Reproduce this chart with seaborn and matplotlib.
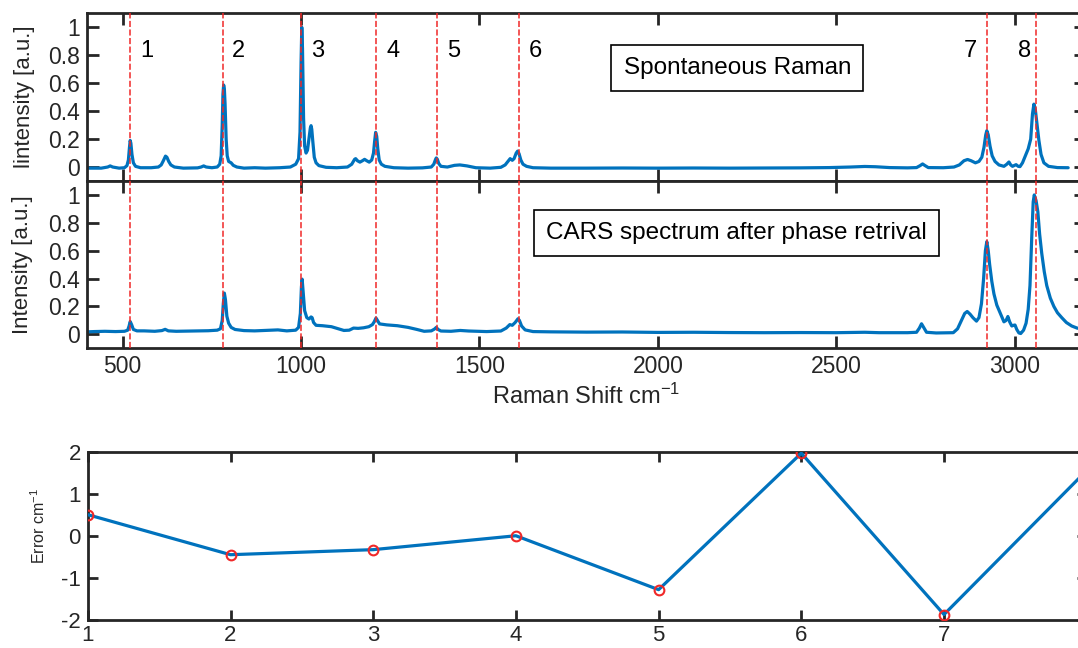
import matplotlib
matplotlib.use("Agg")
import matplotlib.pyplot as plt
import seaborn as sns
from matplotlib.ticker import FuncFormatter

# ---------------------------------------------------------------------------
# Spontaneous Raman spectrum (normalised intensity vs Raman shift, cm^-1)
# ---------------------------------------------------------------------------
spont_shift = [
    400, 440, 458, 465, 472, 490, 505, 512, 516, 519, 521, 523, 526, 530, 536,
    550, 580, 600, 608, 614, 620, 624, 629, 635, 645, 670, 710, 720, 727, 734,
    750, 765, 772, 776, 779, 781, 783, 785, 787, 790, 793, 797, 804, 810, 820,
    840, 870, 900, 940, 970, 985, 993, 997, 1000, 1002, 1004, 1007, 1010, 1014,
    1018, 1022, 1026, 1028, 1030, 1033, 1037, 1042, 1050, 1070, 1100, 1130,
    1142, 1150, 1153, 1158, 1165, 1172, 1178, 1184, 1191, 1198, 1203, 1206,
    1209, 1212, 1215, 1219, 1225, 1235, 1260, 1300, 1340, 1365, 1372, 1377,
    1379, 1382, 1386, 1392, 1410, 1430, 1445, 1465, 1490, 1530, 1560, 1572,
    1580, 1586, 1592, 1597, 1603, 1607, 1611, 1616, 1622, 1632, 1650, 1700,
    1800, 1900, 2000, 2100, 2200, 2300, 2400, 2480, 2540, 2580, 2610, 2650,
    2700, 2725, 2735, 2742, 2749, 2758, 2800, 2830, 2845, 2858, 2868, 2878,
    2890, 2900, 2908, 2914, 2919, 2922, 2926, 2931, 2937, 2945, 2956, 2970,
    2978, 2984, 2989, 2994, 3000, 3004, 3010, 3015, 3022, 3030, 3038, 3045,
    3050, 3054, 3058, 3063, 3068, 3074, 3082, 3095, 3120, 3150,
]
spont_intensity = [
    -0.008, -0.008, 0.000, 0.008, 0.000, -0.008, -0.005, 0.010, 0.050, 0.140,
    0.190, 0.170, 0.090, 0.030, 0.005, -0.005, -0.005, 0.000, 0.015, 0.045,
    0.078, 0.070, 0.040, 0.015, 0.000, -0.008, -0.006, 0.000, 0.008, 0.000,
    -0.005, 0.000, 0.020, 0.080, 0.300, 0.520, 0.587, 0.560, 0.450, 0.200,
    0.080, 0.040, 0.030, 0.012, 0.000, -0.008, -0.005, -0.008, -0.005, 0.000,
    0.020, 0.060, 0.250, 0.750, 1.000, 0.850, 0.350, 0.150, 0.100, 0.120,
    0.200, 0.280, 0.296, 0.270, 0.180, 0.070, 0.030, 0.010, -0.002, -0.005,
    0.000, 0.020, 0.055, 0.060, 0.045, 0.035, 0.045, 0.055, 0.045, 0.035,
    0.050, 0.100, 0.180, 0.248, 0.220, 0.130, 0.050, 0.020, 0.005, -0.005,
    -0.008, -0.006, 0.000, 0.020, 0.055, 0.065, 0.055, 0.025, 0.005, 0.000,
    0.012, 0.015, 0.008, -0.005, -0.008, -0.002, 0.015, 0.040, 0.060, 0.048,
    0.060, 0.100, 0.114, 0.095, 0.050, 0.020, 0.005, -0.005, -0.008, -0.008,
    -0.007, -0.008, -0.007, -0.008, -0.007, -0.006, -0.004, 0.000, 0.004,
    0.002, -0.004, -0.006, -0.004, 0.010, 0.022, 0.010, -0.004, -0.005, 0.000,
    0.015, 0.045, 0.054, 0.045, 0.030, 0.040, 0.070, 0.140, 0.230, 0.260,
    0.230, 0.150, 0.080, 0.040, 0.015, 0.005, 0.020, 0.036, 0.015, 0.005,
    0.012, 0.017, 0.005, 0.003, 0.030, 0.080, 0.130, 0.200, 0.380, 0.450,
    0.410, 0.300, 0.190, 0.090, 0.030, 0.005, -0.004, -0.005,
]

# ---------------------------------------------------------------------------
# CARS spectrum after phase retrieval (normalised)
# ---------------------------------------------------------------------------
cars_shift = [
    400, 420, 450, 480, 505, 514, 518, 521, 525, 530, 540, 560, 590, 610, 619,
    628, 650, 700, 740, 765, 774, 779, 782, 785, 788, 792, 797, 804, 815, 840,
    870, 900, 935, 960, 985, 993, 998, 1001, 1003, 1006, 1010, 1016, 1022,
    1028, 1031, 1035, 1042, 1060, 1085, 1105, 1120, 1135, 1147, 1160, 1175,
    1190, 1200, 1205, 1210, 1214, 1220, 1240, 1270, 1300, 1325, 1345, 1365,
    1374, 1379, 1384, 1392, 1420, 1446, 1470, 1520, 1560, 1575, 1585, 1592,
    1600, 1608, 1612, 1618, 1628, 1650, 1700, 1800, 1900, 2000, 2100, 2200,
    2300, 2400, 2500, 2580, 2620, 2700, 2725, 2733, 2739, 2745, 2753, 2780,
    2828, 2840, 2851, 2860, 2867, 2875, 2883, 2893, 2900, 2907, 2913, 2918,
    2922, 2926, 2930, 2936, 2942, 2950, 2960, 2970, 2976, 2981, 2986, 2992,
    2997, 3001, 3006, 3012, 3017, 3025, 3032, 3038, 3043, 3048, 3052, 3055,
    3060, 3065, 3070, 3076, 3083, 3090, 3100, 3110, 3120, 3132, 3145, 3160,
    3175, 3190, 3200,
]
cars_intensity = [
    0.018, 0.020, 0.022, 0.020, 0.022, 0.030, 0.060, 0.092, 0.070, 0.035,
    0.025, 0.025, 0.022, 0.027, 0.036, 0.025, 0.022, 0.024, 0.026, 0.030,
    0.040, 0.100, 0.220, 0.296, 0.250, 0.130, 0.080, 0.050, 0.035, 0.027,
    0.025, 0.028, 0.032, 0.025, 0.030, 0.050, 0.150, 0.340, 0.396, 0.300,
    0.170, 0.120, 0.110, 0.125, 0.120, 0.085, 0.065, 0.062, 0.055, 0.040,
    0.028, 0.030, 0.045, 0.043, 0.047, 0.055, 0.070, 0.090, 0.117, 0.100,
    0.075, 0.068, 0.062, 0.050, 0.035, 0.022, 0.025, 0.038, 0.050, 0.035,
    0.024, 0.022, 0.028, 0.024, 0.020, 0.024, 0.045, 0.070, 0.065, 0.085,
    0.112, 0.100, 0.060, 0.032, 0.020, 0.018, 0.016, 0.017, 0.014, 0.015,
    0.013, 0.012, 0.013, 0.012, 0.015, 0.012, 0.012, 0.015, 0.045, 0.076,
    0.050, 0.015, 0.010, 0.012, 0.040, 0.100, 0.150, 0.164, 0.145, 0.120,
    0.095, 0.120, 0.220, 0.400, 0.600, 0.665, 0.600, 0.500, 0.380, 0.290,
    0.210, 0.150, 0.090, 0.100, 0.128, 0.090, 0.060, 0.065, 0.067, 0.035,
    0.010, 0.006, 0.030, 0.080, 0.180, 0.350, 0.700, 0.950, 1.000, 0.960,
    0.880, 0.720, 0.580, 0.450, 0.350, 0.260, 0.200, 0.155, 0.120, 0.085,
    0.060, 0.045, 0.038, 0.035,
]

# Reference peak positions (cm^-1) and their numbering
peak_positions = [521, 780, 1000, 1211, 1381, 1611, 2922, 3061]
peak_labels = ["1", "2", "3", "4", "5", "6", "7", "8"]

# Peak-position error of the retrieved CARS spectrum, per peak
error_peak = [1, 2, 3, 4, 5, 6, 7, 8]
error_value = [0.5, -0.45, -0.33, 0.0, -1.28, 1.96, -1.87, 1.55]

# ---------------------------------------------------------------------------
sns.set_theme(style="white")
plt.rcParams["font.family"] = ["Liberation Sans", "DejaVu Sans"]
plt.rcParams["mathtext.fontset"] = "custom"
plt.rcParams["mathtext.rm"] = "Liberation Sans"
plt.rcParams["mathtext.it"] = "Liberation Sans:italic"
plt.rcParams["mathtext.bf"] = "Liberation Sans:bold"
plt.rcParams["axes.unicode_minus"] = False

AX_COLOR = "#262626"
LINE_BLUE = "#0072BD"
PEAK_RED = "#F02828"

W, H = 1078, 648
fig = plt.figure(figsize=(W / 100, H / 100), dpi=100)


def axes_px(left, top, right, bottom):
    """Create axes from pixel edges measured from the top-left corner."""
    return fig.add_axes([left / W, 1 - bottom / H, (right - left) / W, (bottom - top) / H])


ax_raman = axes_px(87, 13.3, 1086, 181)
ax_cars = axes_px(87, 181, 1086, 348.3)
ax_err = axes_px(87.8, 451.5, 1086.7, 620)


def box_style(ax, tick_len, labelsize=16.5, pad=5):
    for spine in ax.spines.values():
        spine.set_visible(True)
        spine.set_linewidth(2.0)
        spine.set_color(AX_COLOR)
    ax.tick_params(direction="in", length=tick_len, width=2.0, color=AX_COLOR,
                   labelcolor=AX_COLOR, top=True, right=True, bottom=True, left=True,
                   labelsize=labelsize, pad=pad)


fmt = FuncFormatter(lambda v, _: f"{v:g}")

# --- spectra -------------------------------------------------------------
for ax, xs, ys in [(ax_raman, spont_shift, spont_intensity),
                   (ax_cars, cars_shift, cars_intensity)]:
    sns.lineplot(x=xs, y=ys, ax=ax, color=LINE_BLUE, linewidth=2.3, zorder=2)
    for pos in peak_positions:
        ax.axvline(pos, color=PEAK_RED, linewidth=1.1, linestyle=(0, (4, 1.6)), zorder=3)
    ax.set_xlim(400, 3200)
    ax.set_ylim(-0.1, 1.1)
    ax.set_xticks([500, 1000, 1500, 2000, 2500, 3000])
    ax.set_yticks([0, 0.2, 0.4, 0.6, 0.8, 1.0])
    ax.yaxis.set_major_formatter(fmt)
    box_style(ax, 8.6)

ax_raman.tick_params(labelbottom=False)
ax_raman.set_ylabel("lintensity [a.u.]", fontsize=16, color=AX_COLOR)
ax_raman.yaxis.set_label_coords(-0.052, 0.5)
ax_cars.set_ylabel("Intensity [a.u.]", fontsize=16, color=AX_COLOR)
ax_cars.yaxis.set_label_coords(-0.054, 0.5)
ax_cars.set_xlabel("Raman Shift cm$^{-1}$", fontsize=17, color=AX_COLOR, labelpad=4)

# peak numbers next to the dashed markers
label_offsets = [7, 7, 7, 7, 7, 7, -7, -4]
for pos, lab, off in zip(peak_positions, peak_labels, label_offsets):
    ax_raman.annotate(lab, xy=(pos, 0.83), xytext=(off, 0), textcoords="offset points",
                      ha="left" if off > 0 else "right", va="center",
                      fontsize=17, color="black")

box = dict(boxstyle="square,pad=0.5", facecolor="white", edgecolor="black", linewidth=1.2)
ax_raman.text(0.651, 0.672, "Spontaneous Raman", transform=ax_raman.transAxes,
              ha="center", va="center", fontsize=17.5, color="black", bbox=box, zorder=5)
ax_cars.text(0.6497, 0.691, "CARS spectrum after phase retrival", transform=ax_cars.transAxes,
             ha="center", va="center", fontsize=17.5, color="black", bbox=box, zorder=5)

# --- error panel ---------------------------------------------------------
sns.lineplot(x=error_peak, y=error_value, ax=ax_err, color=LINE_BLUE, linewidth=2.3,
             marker="o", markersize=7, markerfacecolor="none",
             markeredgecolor=PEAK_RED, markeredgewidth=1.5, zorder=3)
ax_err.set_xlim(1, 8)
ax_err.set_ylim(-2, 2)
ax_err.set_xticks(error_peak)
ax_err.set_yticks([-2, -1, 0, 1, 2])
box_style(ax_err, 7.2, labelsize=16, pad=3.5)
ax_err.tick_params(axis="y", pad=5)
ax_err.set_ylabel("Error cm$^{-1}$", fontsize=11.5, color=AX_COLOR)
ax_err.yaxis.set_label_coords(-0.0396, 0.56)

fig.savefig("out.png", dpi=100)
